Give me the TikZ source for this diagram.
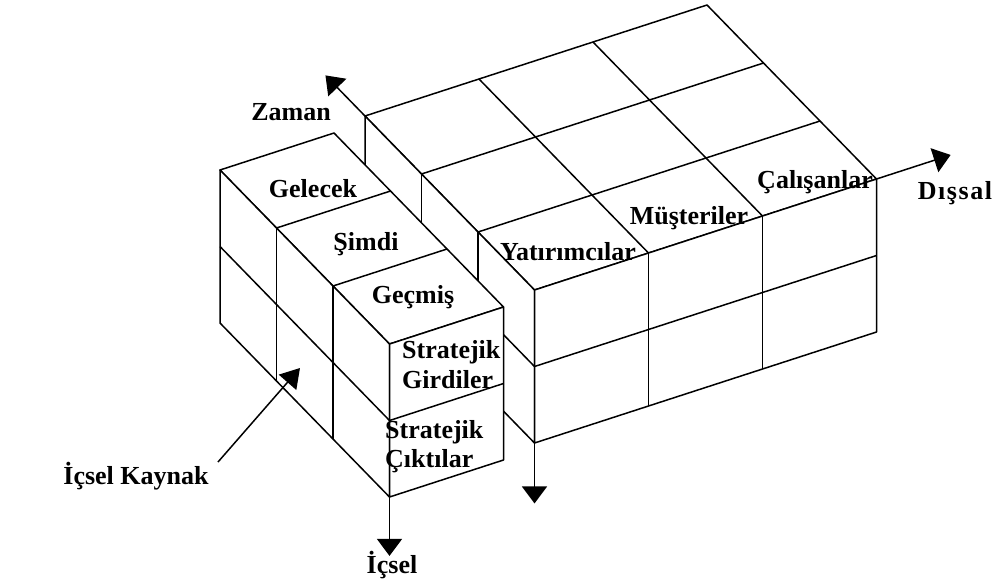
\documentclass[tikz,border=0pt]{standalone}
\usepackage{fontspec}
\setmainfont{Liberation Serif}
\usetikzlibrary{arrows.meta}
\begin{document}
\begin{tikzpicture}[x=1pt,y=1pt,
  face/.style={fill=white, draw=black, line width=1.5pt, line join=round},
  gridline/.style={draw=black, line width=1.5pt},
  axis/.style={draw=black, line width=1.5pt, -{Triangle[length=17pt,width=25pt]}},
  lbl/.style={font=\fontsize{26}{28}\selectfont\bfseries, inner sep=0pt}]
\useasboundingbox (0,0) rectangle (1000,-587);

% ---------- right block (external), drawn first ----------
\begin{scope}[shift={(365pt,-269pt)}, x={(114pt,37pt)}, y={(56.5pt,-58pt)}, z={(0pt,76.5pt)}]
  \draw[face] (0,0,2) -- (3,0,2) -- (3,3,2) -- (0,3,2) -- cycle;
  \draw[face] (0,0,0) -- (0,3,0) -- (0,3,2) -- (0,0,2) -- cycle;
  \draw[face] (0,3,0) -- (3,3,0) -- (3,3,2) -- (0,3,2) -- cycle;
  \foreach \i in {1,2} {
    \draw[gridline] (\i,0,2) -- (\i,3,2);
    \draw[gridline] (0,\i,2) -- (3,\i,2);
    \draw[gridline] (\i,3,0) -- (\i,3,2);
    \draw[gridline] (0,\i,0) -- (0,\i,2);
  }
  \draw[gridline] (0,3,1) -- (3,3,1);
  \draw[gridline] (0,0,1) -- (0,3,1);
  \coordinate (Rtbl) at (0,0,2);
  \coordinate (Zt) at (0,-0.7,2);
  \coordinate (Rtfr) at (3,3,2);
  \coordinate (Dt) at (3.65,3,2);
  \coordinate (Rbfl) at (0,3,0);
  \coordinate (Rdn) at (0,3,-0.79);
\end{scope}

% ---------- left block (internal), drawn on top ----------
\begin{scope}[shift={(220pt,-323pt)}, x={(114pt,37pt)}, y={(56.5pt,-58pt)}, z={(0pt,76.5pt)}]
  \draw[face] (0,0,2) -- (1,0,2) -- (1,3,2) -- (0,3,2) -- cycle;
  \draw[face] (0,0,0) -- (0,3,0) -- (0,3,2) -- (0,0,2) -- cycle;
  \draw[face] (0,3,0) -- (1,3,0) -- (1,3,2) -- (0,3,2) -- cycle;
  \foreach \i in {1,2} {
    \draw[gridline] (0,\i,2) -- (1,\i,2);
    \draw[gridline] (0,\i,0) -- (0,\i,2);
  }
  \draw[gridline] (0,0,1) -- (0,3,1);
  \draw[gridline] (0,3,1) -- (1,3,1);
  \coordinate (Lbfl) at (0,3,0);
  \coordinate (Ldn) at (0,3,-0.77);
\end{scope}

% ---------- axes ----------
\draw[axis] (Rtbl) -- (Zt);
\draw[axis] (Rtfr) -- (Dt);
\draw[axis] (Rbfl) -- (Rdn);
\draw[axis] (Lbfl) -- (Ldn);
\coordinate (ikS) at (218,-462);
\coordinate (ikT) at (300,-368);
\draw[draw=black, line width=1.5pt, -{Triangle[length=19pt,width=23pt]}] (ikS) -- (ikT);

% ---------- labels ----------
\node[lbl, anchor=base] (zaman) at (291,-120) {Zaman};
\node[lbl, anchor=base] (gelecek) at (313,-197) {Gelecek};
\node[lbl, anchor=base] (simdi) at (366,-250) {Şimdi};
\node[lbl, anchor=base] (gecmis) at (413,-303) {Geçmiş};
\node[lbl, anchor=base west] (sg1) at (402,-358) {Stratejik};
\node[lbl, anchor=base west] (sg2) at (402,-388) {Girdiler};
\node[lbl, anchor=base west] (sc1) at (385,-438) {Stratejik};
\node[lbl, anchor=base west] (sc2) at (385,-467) {Çıktılar};
\node[lbl, anchor=base] (yat) at (568,-260) {Yatırımcılar};
\node[lbl, anchor=base] (mus) at (689,-224) {Müşteriler};
\node[lbl, anchor=base] (cal) at (815,-188) {Çalışanlar};
\node[lbl, anchor=base] (dis) at (955,-199) {\addfontfeature{LetterSpace=6}Dışsal};
\node[lbl, anchor=base] (ick) at (136,-484) {İçsel Kaynak};
\node[lbl, anchor=base] (icsel) at (392,-573) {İçsel};
\end{tikzpicture}
\end{document}
